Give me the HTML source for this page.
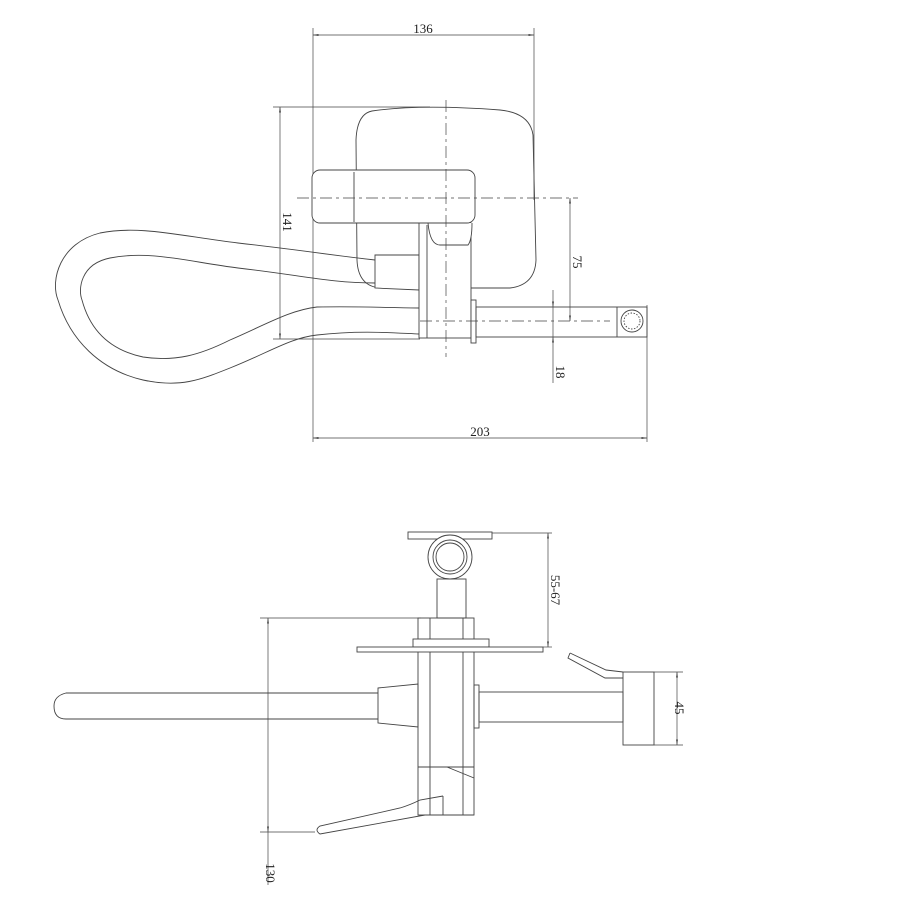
<!DOCTYPE html>
<html><head><meta charset="utf-8"><style>
html,body{margin:0;padding:0;background:#fff;}
svg{display:block;}
text{font-family:"Liberation Serif",serif;font-size:13px;fill:#222;}
</style></head><body>
<svg width="900" height="900" viewBox="0 0 900 900" xmlns="http://www.w3.org/2000/svg">
<defs>
<marker id="a" viewBox="0 0 10 10" refX="10" refY="5" markerWidth="8" markerHeight="8" orient="auto-start-reverse"><path d="M0,3.5 L10,5 L0,6.5 Z" fill="#222"/></marker>
</defs>
<g fill="none" stroke="#444" stroke-width="0.9">
<!-- TOP VIEW -->
<line x1="313" y1="28" x2="313" y2="442" stroke-width="0.7"/>
<line x1="534" y1="28" x2="534" y2="200" stroke-width="0.7"/>
<line x1="313" y1="35" x2="534" y2="35" marker-start="url(#a)" marker-end="url(#a)" stroke-width="0.7"/>
<line x1="273" y1="107" x2="430" y2="107" stroke-width="0.7"/>
<line x1="273" y1="339" x2="420" y2="339" stroke-width="0.7"/>
<line x1="280" y1="107" x2="280" y2="339" marker-start="url(#a)" marker-end="url(#a)" stroke-width="0.7"/>
<line x1="647" y1="305" x2="647" y2="442" stroke-width="0.7"/>
<line x1="313" y1="438" x2="647" y2="438" marker-start="url(#a)" marker-end="url(#a)" stroke-width="0.7"/>
<!-- body -->
<path d="M372,111 Q420,104 500,110 Q530,113 533,135 L536,260 Q535,285 510,288 L380,288 Q358,286 357,260 L356,140 Q357,114 372,111 Z"/>
<!-- connector -->
<path d="M375,255 L419,255 L419,290 L375,288 Z" fill="#fff"/>
<!-- stem -->
<rect x="419" y="223" width="52" height="115" fill="#fff"/>
<line x1="427" y1="225" x2="427" y2="338"/>
<rect x="471" y="300" width="5" height="43" fill="#fff"/>
<!-- handle -->
<path d="M428,223 Q430,245 440,245 L468,245 Q472,240 472,223" fill="#fff"/>
<rect x="312" y="170" width="163" height="53" rx="8" fill="#fff"/>
<line x1="354" y1="172" x2="354" y2="222"/>
<!-- pipe -->
<rect x="476" y="307" width="171" height="30"/>
<line x1="617" y1="307" x2="617" y2="337"/>
<circle cx="632" cy="321" r="11"/>
<circle cx="632" cy="321" r="8" stroke-dasharray="1.5,1.5"/>
<!-- centerlines -->
<line x1="297" y1="198" x2="578" y2="198" stroke-dasharray="12,4,3,4" stroke-width="0.7"/>
<line x1="446" y1="100" x2="446" y2="357" stroke-dasharray="12,4,3,4" stroke-width="0.7"/>
<line x1="420" y1="321" x2="610" y2="321" stroke-dasharray="12,4,3,4" stroke-width="0.7"/>
<line x1="570" y1="198" x2="570" y2="321" marker-start="url(#a)" marker-end="url(#a)" stroke-width="0.7"/>
<line x1="553" y1="290" x2="553" y2="307" marker-end="url(#a)" stroke-width="0.7"/>
<line x1="553" y1="383" x2="553" y2="337" marker-end="url(#a)" stroke-width="0.7"/>
<line x1="553" y1="307" x2="553" y2="337" stroke-width="0.7"/>
<!-- hose -->
<path d="M375,260 C330,255 300,250 238,243 C180,236 140,225 100,233 C60,243 50,280 58,300 C70,340 100,370 143,380 C180,388 200,380 230,368 C270,352 290,338 317,335 C360,330 395,333 419,334"/>
<path d="M375,283 C330,283 300,275 238,268 C190,262 150,250 110,258 C80,264 78,290 82,300 C90,330 110,350 143,357 C175,362 200,355 230,340 C265,325 290,310 317,307 C360,306 395,308 419,308"/>
<!-- BOTTOM VIEW -->
<line x1="492" y1="533" x2="552" y2="533" stroke-width="0.7"/>
<line x1="543" y1="647" x2="552" y2="647" stroke-width="0.7"/>
<line x1="548" y1="533" x2="548" y2="647" marker-start="url(#a)" marker-end="url(#a)" stroke-width="0.7"/>
<line x1="260" y1="618" x2="421" y2="618" stroke-width="0.7"/>
<line x1="260" y1="832" x2="315" y2="832" stroke-width="0.7"/>
<line x1="268" y1="618" x2="268" y2="832" marker-start="url(#a)" marker-end="url(#a)" stroke-width="0.7"/>
<line x1="268" y1="832" x2="268" y2="885" stroke-width="0.7"/>
<line x1="654" y1="672" x2="683" y2="672" stroke-width="0.7"/>
<line x1="654" y1="745" x2="683" y2="745" stroke-width="0.7"/>
<line x1="677" y1="672" x2="677" y2="745" marker-start="url(#a)" marker-end="url(#a)" stroke-width="0.7"/>
<rect x="408" y="532" width="84" height="7"/>
<rect x="437" y="579" width="29" height="39"/>
<circle cx="450" cy="557" r="22" fill="#fff"/>
<circle cx="450" cy="557" r="17"/>
<circle cx="450" cy="557" r="14"/>
<rect x="418" y="618" width="56" height="197"/>
<line x1="430" y1="618" x2="430" y2="815"/>
<line x1="463" y1="618" x2="463" y2="815"/>
<rect x="413" y="639" width="76" height="8" fill="#fff"/>
<rect x="357" y="647" width="186" height="5" fill="#fff"/>
<line x1="418" y1="767" x2="474" y2="767"/>
<line x1="447" y1="767" x2="474" y2="778"/>
<path d="M443,796 L420,800 Q410,805 400,808 L320,826 Q314,830 320,834 L425,815 L474,815"/>
<line x1="443" y1="796" x2="443" y2="815"/>
<path d="M378,693 L66,693 Q54,696 54,706 Q54,719 66,719 L378,719"/>
<path d="M378,688 L418,684 L418,727 L378,723 Z"/>
<rect x="474" y="685" width="5" height="43"/>
<rect x="479" y="692" width="144" height="30"/>
<rect x="623" y="672" width="31" height="73"/>
<path d="M570,653 L606,670 L623,672 M570,653 L568,658 L605,678 L623,678"/>
</g>
<text x="423" y="33" text-anchor="middle">136</text>
<text x="480" y="436" text-anchor="middle">203</text>
<text transform="translate(283,222) rotate(90)" text-anchor="middle">141</text>
<text transform="translate(573,262) rotate(90)" text-anchor="middle">75</text>
<text transform="translate(556,372) rotate(90)" text-anchor="middle">18</text>
<text transform="translate(551,590) rotate(90)" text-anchor="middle">55-67</text>
<text transform="translate(675,708) rotate(90)" text-anchor="middle">45</text>
<text transform="translate(266,873) rotate(90)" text-anchor="middle">130</text>
</svg>
</body></html>
